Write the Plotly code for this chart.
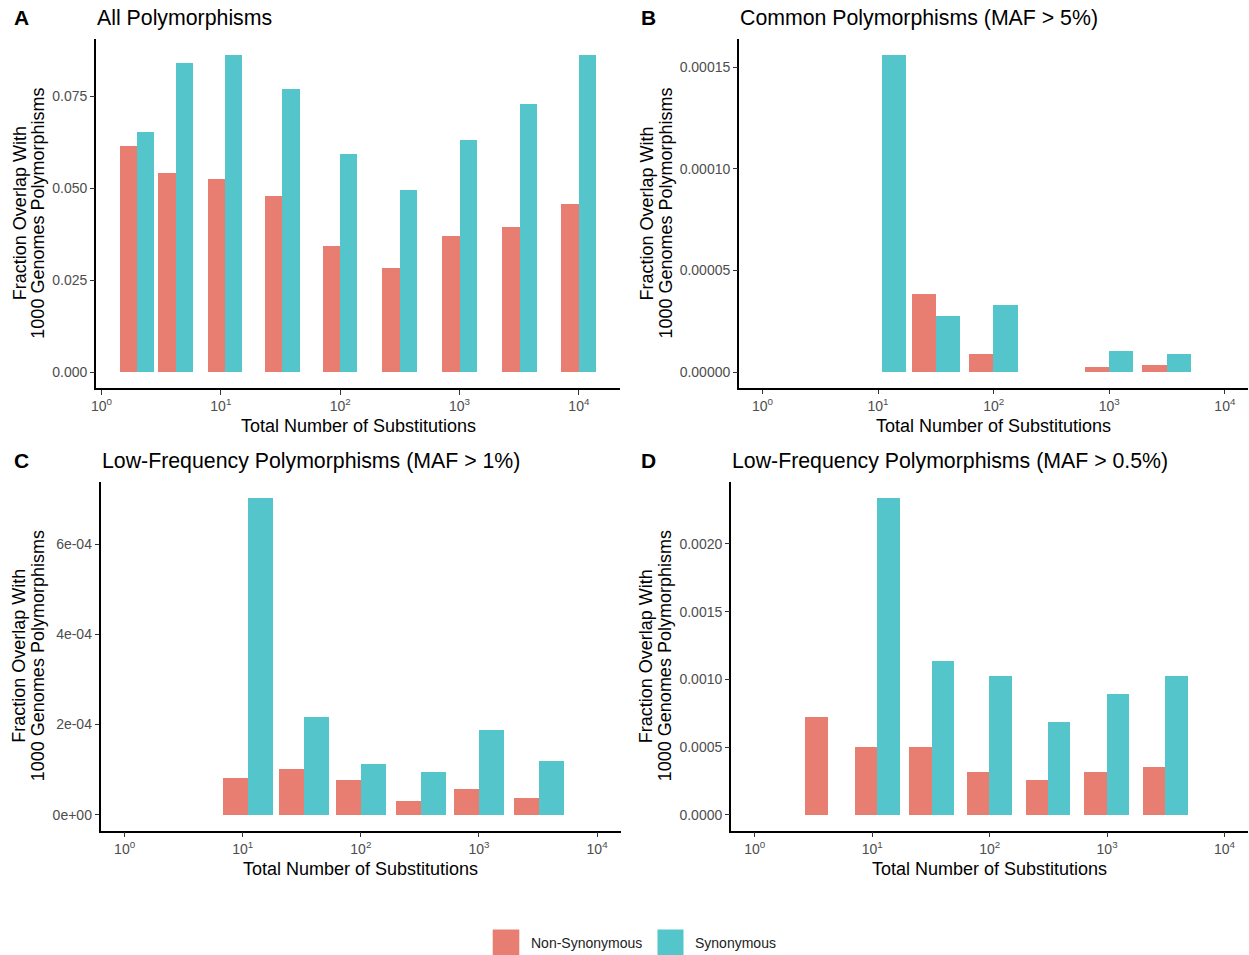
import numpy as np
import plotly.graph_objects as go

# ---------------- data ----------------
a_subs = [2, 4.2, 10.9, 33, 100, 316, 1010, 3200, 10000]
a_nonsyn = [0.0615, 0.0542, 0.0526, 0.0480, 0.0342, 0.0283, 0.0371, 0.0394, 0.0457]
a_syn = [0.0654, 0.0840, 0.0862, 0.0769, 0.0592, 0.0496, 0.0631, 0.0729, 0.0862]

b_subs = [10.9, 32, 100, 1000, 3160]
b_nonsyn = [None, 3.86e-5, 8.8e-6, 2.3e-6, 3.4e-6]
b_syn = [1.56e-4, 2.75e-5, 3.29e-5, 1.06e-5, 8.8e-6]

c_subs = [11.1, 32.9, 100, 324, 1000, 3240]
c_nonsyn = [8.3e-5, 1.02e-4, 7.8e-5, 3.2e-5, 5.9e-5, 3.8e-5]
c_syn = [7.03e-4, 2.17e-4, 1.13e-4, 9.6e-5, 1.88e-4, 1.21e-4]

d_subs = [4.2, 11.1, 32.2, 100, 316, 1000, 3160]
d_nonsyn = [7.24e-4, 5.0e-4, 5.0e-4, 3.21e-4, 2.6e-4, 3.21e-4, 3.56e-4]
d_syn = [None, 2.342e-3, 1.136e-3, 1.028e-3, 6.87e-4, 8.93e-4, 1.028e-3]

x_tick_exps = [0, 1, 2, 3, 4]
x_tick_text = ["10<sup>0</sup>", "10<sup>1</sup>", "10<sup>2</sup>", "10<sup>3</sup>", "10<sup>4</sup>"]

a_ytick_vals = [0, 0.025, 0.05, 0.075]
a_ytick_text = ["0.000", "0.025", "0.050", "0.075"]
b_ytick_vals = [0, 5e-5, 1e-4, 1.5e-4]
b_ytick_text = ["0.00000", "0.00005", "0.00010", "0.00015"]
c_ytick_vals = [0, 2e-4, 4e-4, 6e-4]
c_ytick_text = ["0e+00", "2e-04", "4e-04", "6e-04"]
d_ytick_vals = [0, 5e-4, 1e-3, 1.5e-3, 2e-3]
d_ytick_text = ["0.0000", "0.0005", "0.0010", "0.0015", "0.0020"]

series_names = ["Non-Synonymous", "Synonymous"]
titles = ["All Polymorphisms", "Common Polymorphisms (MAF > 5%)",
          "Low-Frequency Polymorphisms (MAF > 1%)", "Low-Frequency Polymorphisms (MAF > 0.5%)"]
panel_labels = ["A", "B", "C", "D"]
x_title = "Total Number of Substitutions"
y_title_lines = ["Fraction Overlap With", "1000 Genomes Polymorphisms"]

# ---------------- styling / layout ----------------
RED = "#E87D72"
CYAN = "#53C5CB"
FONT = "Liberation Sans, Arial, Helvetica, sans-serif"
W, H = 1249, 955


def px(x):
    return x / W


def py(y):
    return 1 - y / H


panels = [
    dict(subs=a_subs, non=a_nonsyn, syn=a_syn, yv=a_ytick_vals, yt=a_ytick_text, xlim=None,
         box=(96.3, 620, 39, 388.3), ylab=(19.5, 38), xlab_y=426, lab_x=12.5, title_y=18),
    dict(subs=b_subs, non=b_nonsyn, syn=b_syn, yv=b_ytick_vals, yt=b_ytick_text, xlim=(0, 4),
         box=(739.3, 1248, 39, 388), ylab=(646, 665), xlab_y=426, lab_x=640, title_y=18),
    dict(subs=c_subs, non=c_nonsyn, syn=c_syn, yv=c_ytick_vals, yt=c_ytick_text, xlim=(0, 4),
         box=(101, 620.7, 481.7, 830.7), ylab=(19.5, 38), xlab_y=869, lab_x=12.5, title_y=461),
    dict(subs=d_subs, non=d_nonsyn, syn=d_syn, yv=d_ytick_vals, yt=d_ytick_text, xlim=(0, 4),
         box=(731.3, 1248, 481.7, 830.7), ylab=(646, 665), xlab_y=869, lab_x=639.5, title_y=461),
]

fig = go.Figure()
annotations = []
layout = {}

for i, p in enumerate(panels):
    n = "" if i == 0 else str(i + 1)
    xa, ya = "x" + n, "y" + n
    xlog = np.log10(np.array(p["subs"], dtype=float))
    w = 0.45 * np.min(np.diff(xlog))  # dodged bar width (0.9 * resolution / 2)

    fig.add_trace(go.Bar(x=xlog, y=p["non"], width=w, offset=-w, name=series_names[0],
                         marker=dict(color=RED, line=dict(width=0)), xaxis=xa, yaxis=ya,
                         showlegend=False))
    fig.add_trace(go.Bar(x=xlog, y=p["syn"], width=w, offset=0, name=series_names[1],
                         marker=dict(color=CYAN, line=dict(width=0)), xaxis=xa, yaxis=ya,
                         showlegend=False))

    if p["xlim"] is None:
        lo, hi = xlog.min() - w, xlog.max() + w
    else:
        lo, hi = p["xlim"]
    span = hi - lo
    xr = [lo - 0.05 * span, hi + 0.05 * span]

    vals = [v for v in p["non"] + p["syn"] if v is not None]
    ymax = max(vals)
    yr = [-0.05 * ymax, 1.05 * ymax]

    x0, x1, ytop, ybot = p["box"]
    common = dict(showline=True, linecolor="black", linewidth=1.5, ticks="outside",
                  ticklen=4.5, tickwidth=1.1, tickcolor="#333333",
                  tickfont=dict(family=FONT, size=14, color="#4D4D4D"),
                  showgrid=False, zeroline=False, fixedrange=True, automargin=False)
    layout["xaxis" + n] = dict(domain=[px(x0), px(x1)], anchor=ya, range=xr,
                               tickmode="array", tickvals=x_tick_exps, ticktext=x_tick_text,
                               **common)
    layout["yaxis" + n] = dict(domain=[py(ybot), py(ytop)], anchor=xa, range=yr,
                               tickmode="array", tickvals=p["yv"], ticktext=p["yt"],
                               **common)

    annotations.append(dict(text="<b>%s</b>" % panel_labels[i], x=px(p["lab_x"]), y=py(p["title_y"]),
                            xref="paper", yref="paper", xanchor="left", yanchor="middle", borderpad=0,
                            showarrow=False, font=dict(family=FONT, size=21, color="black")))
    annotations.append(dict(text=titles[i], x=px(x0), y=py(p["title_y"]),
                            xref="paper", yref="paper", xanchor="left", yanchor="middle", borderpad=0,
                            showarrow=False, font=dict(family=FONT, size=21.3, color="black")))
    annotations.append(dict(text=x_title, x=px((x0 + x1) / 2), y=py(p["xlab_y"]),
                            xref="paper", yref="paper", xanchor="center", yanchor="middle",
                            showarrow=False, font=dict(family=FONT, size=18, color="black")))
    for line, lx in zip(y_title_lines, p["ylab"]):
        annotations.append(dict(text=line, x=px(lx), y=py((ytop + ybot) / 2),
                                xref="paper", yref="paper", xanchor="center", yanchor="middle",
                                textangle=-90, showarrow=False,
                                font=dict(family=FONT, size=18, color="black")))

# legend drawn with large square keys, as in the reference
shapes = []
legend_items = [(492.7, 519.3, 529.5, RED, series_names[0]),
                (657.5, 683.5, 693.5, CYAN, series_names[1])]
for kx0, kx1, tx, col, name in legend_items:
    shapes.append(dict(type="rect", xref="paper", yref="paper", x0=px(kx0), x1=px(kx1),
                       y0=py(956), y1=py(929.5), fillcolor=col, line=dict(width=0), layer="above"))
    annotations.append(dict(text=name, x=px(tx), y=py(943), xref="paper", yref="paper",
                            xanchor="left", yanchor="middle", showarrow=False, borderpad=0,
                            font=dict(family=FONT, size=14, color="#222222")))

fig.update_layout(
    width=W, height=H, margin=dict(l=0, r=0, t=0, b=0, autoexpand=False),
    paper_bgcolor="white", plot_bgcolor="white",
    barmode="overlay", bargap=0,
    font=dict(family=FONT, color="black"),
    annotations=annotations, shapes=shapes,
    showlegend=False,
    **layout,
)

fig.write_html("out.html")
